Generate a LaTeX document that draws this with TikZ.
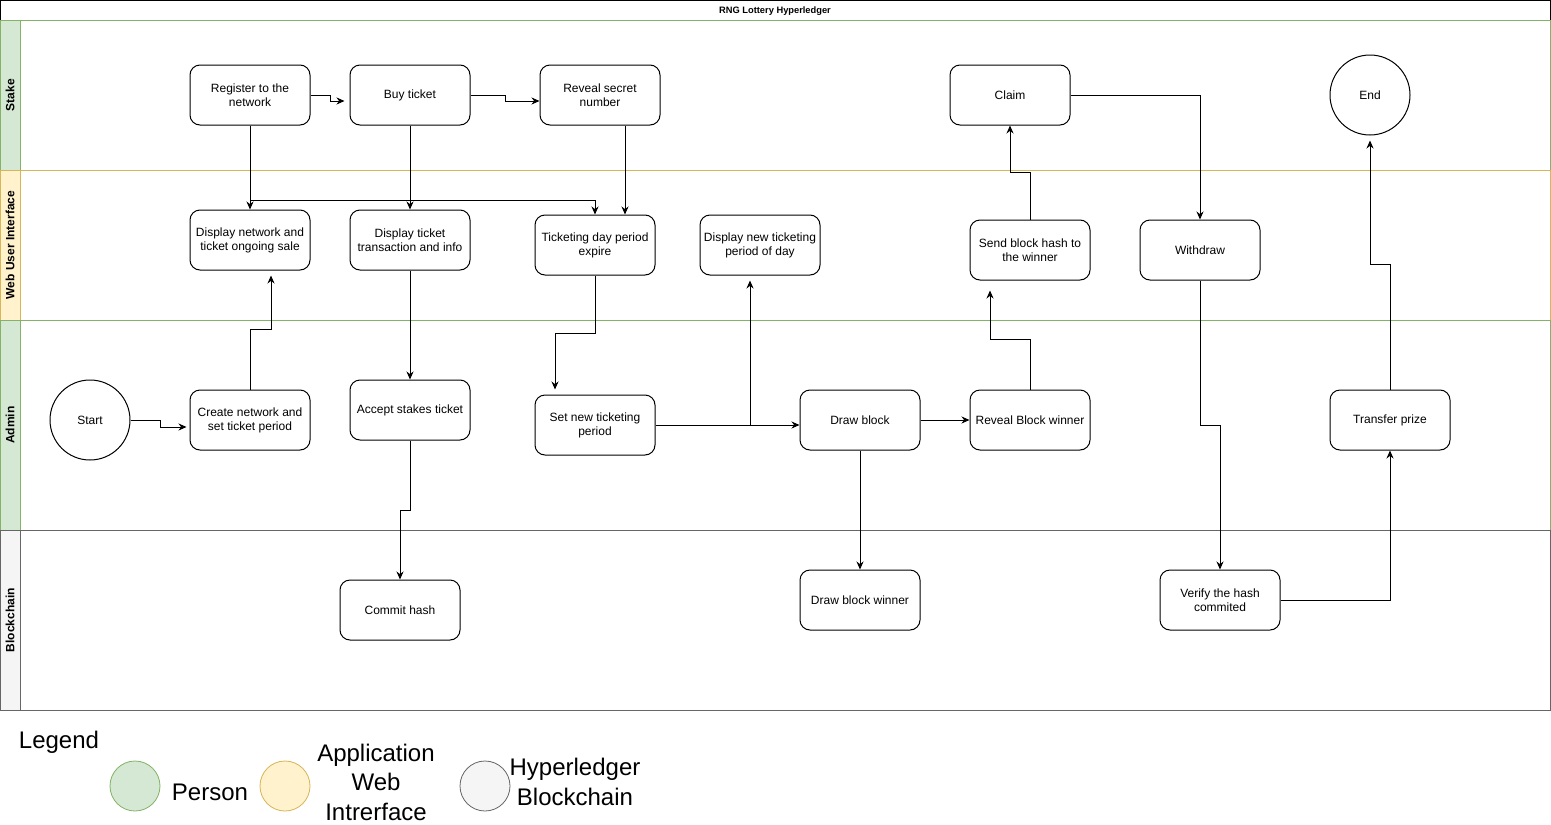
\documentclass[tikz,border=0pt]{standalone}
\usepackage{fontspec}
\setmainfont{Liberation Sans}
\usetikzlibrary{calc,arrows.meta}
\definecolor{pfill}{HTML}{D5E8D4}
\definecolor{pline}{HTML}{82B366}
\definecolor{yfill}{HTML}{FFF2CC}
\definecolor{yline}{HTML}{D6B656}
\definecolor{gfill}{HTML}{F5F5F5}
\definecolor{gline}{HTML}{666666}
\tikzset{
  box/.style={draw, line width=1pt, rounded corners=10pt, minimum width=120pt, minimum height=60pt,
    align=center, inner sep=2pt, font=\fontsize{12}{14}\selectfont, fill=white},
  endpt/.style={draw, line width=1pt, circle, minimum size=80pt, inner sep=0pt,
    font=\fontsize{12}{14}\selectfont, fill=white},
  arr/.style={line width=1pt, -{Stealth[length=8pt,width=7pt]}},
  lanelbl/.style={rotate=90, font=\bfseries\fontsize{12}{14}\selectfont},
  legtxt/.style={font=\fontsize{24}{29.5}\selectfont, align=center, inner sep=0pt},
  legdot/.style={circle, minimum size=50pt, inner sep=0pt, line width=0.8pt}
}
\begin{document}
\begin{tikzpicture}[x=1pt,y=-1pt]
\useasboundingbox (0,0) rectangle (1551,825);
\fill[white] (0,0) rectangle (1551,825);
% title
\draw[line width=1pt] (0.5,0.5) rectangle (1550,20);
\node[font=\bfseries\fontsize{9.3}{11}\selectfont] (title) at (775,11) {RNG Lottery Hyperledger};
% lanes
\draw[pline, line width=1pt] (0.5,20) rectangle (1550,170);
\draw[pline, line width=1pt, fill=pfill] (0.5,20) rectangle (20,170);
\draw[yline, line width=1pt] (0.5,170) rectangle (1550,320);
\draw[yline, line width=1pt, fill=yfill] (0.5,170) rectangle (20,320);
\draw[pline, line width=1pt] (0.5,320) rectangle (1550,530);
\draw[pline, line width=1pt, fill=pfill] (0.5,320) rectangle (20,530);
\draw[gline, line width=1pt] (0.5,530) rectangle (1550,710);
\draw[gline, line width=1pt, fill=gfill] (0.5,530) rectangle (20,710);
\node[lanelbl] (l1) at (10,95) {Stake};
\node[lanelbl] (l2) at (10,245) {Web User Interface};
\node[lanelbl] (l3) at (10,425) {Admin};
\node[lanelbl] (l4) at (10,620) {Blockchain};
% nodes - Stake
\node[box] (reg) at (250,95) {Register to the\\network};
\node[box] (buy) at (410,95) {Buy ticket};
\node[box] (rev) at (600,95) {Reveal secret\\number};
\node[box] (claim) at (1010,95) {Claim};
\node[endpt] (end) at (1370,95) {End};
% Web UI
\node[box] (dnet) at (250,240) {Display network and\\ticket ongoing sale};
\node[box] (dtick) at (410,240) {Display ticket\\transaction and info};
\node[box] (tday) at (595,245) {Ticketing day period\\expire};
\node[box] (dnew) at (760,245) {Display new ticketing\\period of day};
\node[box] (send) at (1030,250) {Send block hash to\\the winner};
\node[box] (wd) at (1200,250) {Withdraw};
% Admin
\node[endpt] (start) at (90,420) {Start};
\node[box] (create) at (250,420) {Create network and\\set ticket period};
\node[box] (acc) at (410,410) {Accept stakes ticket};
\node[box] (setp) at (595,425) {Set new ticketing\\period};
\node[box] (draw) at (860,420) {Draw block};
\node[box] (rbw) at (1030,420) {Reveal Block winner};
\node[box] (tp) at (1390,420) {Transfer prize};
% Blockchain
\node[box] (commit) at (400,610) {Commit hash};
\node[box] (dbw) at (860,600) {Draw block winner};
\node[box] (ver) at (1220,600) {Verify the hash\\commited};
% connectors
\draw[arr] (reg.east) -- ++(20,0) |- ($(buy.west)+(-5,6)$);
\draw[arr] (buy.east) -- ++(35,0) |- ($(rev.west)+(0,6)$);
\draw[arr] (reg.south) -- (dnet.north);
\draw[arr] (reg.south) -- ++(0,75) -| (tday.north);
\draw[arr] (buy.south) -- (dtick.north);
\draw[arr] ($(rev.south)+(25,0)$) -- ($(tday.north)+(30,0)$);
\draw[arr] (dtick.south) -- (acc.north);
\draw[arr] (create.north) -- ++(0,-60) -| ($(dnet.south)+(21,5)$);
\draw[arr] (start.east) -- ++(30,0) |- ($(create.west)+(-3,7)$);
\draw[arr] (tday.south) -- ++(0,58) -| ($(setp.north)+(-40,-5)$);
\draw[arr] (setp.east) -| ($(dnew.south)+(-10,5)$);
\draw[arr] (setp.east) -- ($(draw.west)+(0,5)$);
\draw[arr] (acc.south) -- ++(0,70) -| (commit.north);
\draw[arr] (draw.east) -- (rbw.west);
\draw[arr] (draw.south) -- (dbw.north);
\draw[arr] (rbw.north) -- ++(0,-50) -| ($(send.south)+(-40,10)$);
\draw[arr] (send.north) -- ++(0,-47) -| (claim.south);
\draw[arr] (claim.east) -| (wd.north);
\draw[arr] (wd.south) -- ++(0,145) -| (ver.north);
\draw[arr] (ver.east) -| (tp.south);
\draw[arr] (tp.north) -- ++(0,-125) -| ($(end.south)+(0,5)$);
% legend
\node[legtxt] (leg) at (59,742) {Legend};
\node[legdot, draw=pline, fill=pfill] (d1) at (135,786) {};
\node[legtxt] (t1) at (210,792) {Person};
\node[legdot, draw=yline, fill=yfill] (d2) at (285,786) {};
\node[legtxt] (t2) at (376,782) {Application\\Web\\Intrerface};
\node[legdot, draw=gline, fill=gfill] (d3) at (485,786) {};
\node[legtxt] (t3) at (575,782) {Hyperledger\\Blockchain};
\end{tikzpicture}
\end{document}
